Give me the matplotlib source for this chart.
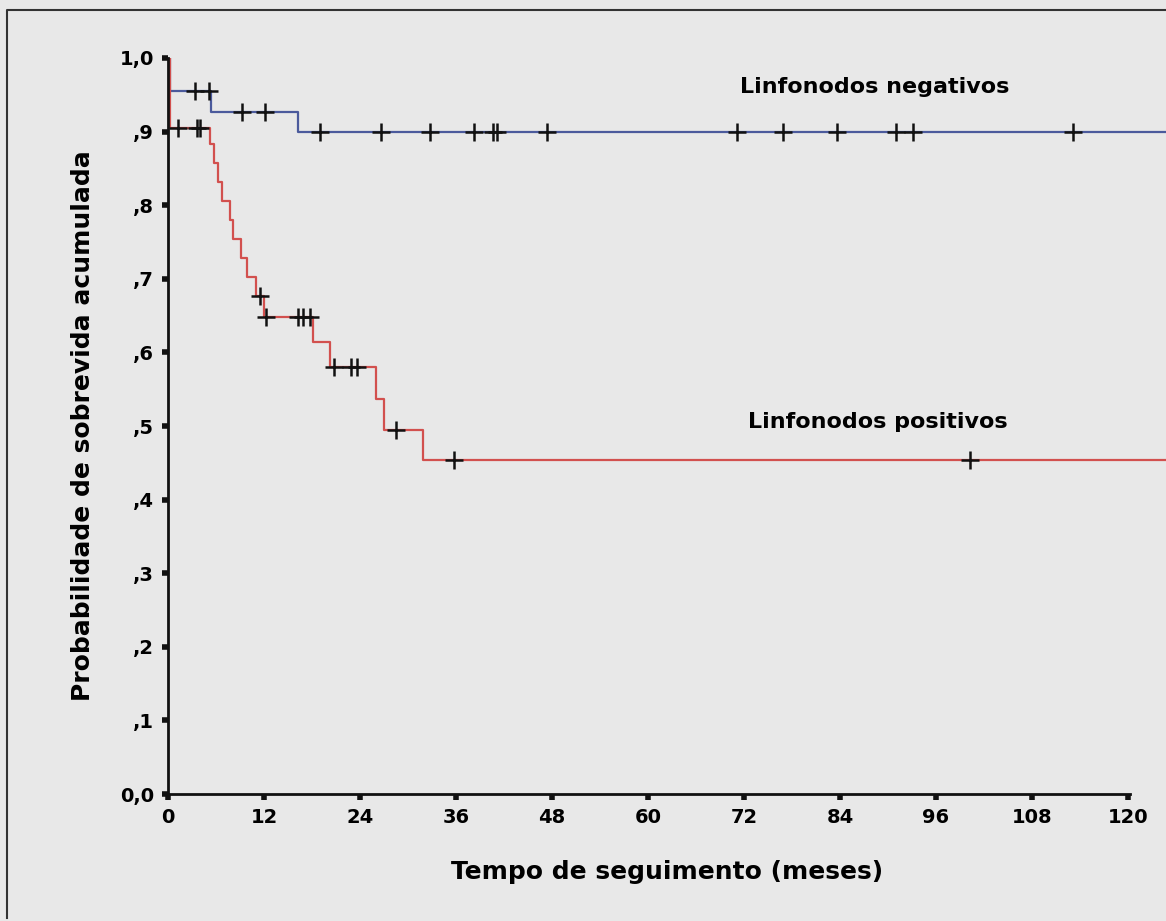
import numpy as np
import matplotlib.pyplot as plt
from matplotlib.lines import Line2D

plt.rcParams['font.family'] = ['DejaVu Sans']
plt.rcParams['font.weight'] = 'bold'

# Kaplan-Meier steps (time in months, survival after the step)
neg_times = [0, 0.3, 5.4, 16.2, 124.75]
neg_surv = [1.0, 0.955, 0.927, 0.900, 0.900]
neg_cens = [3.4, 5.1, 9.2, 12.1, 19.0, 26.6, 32.8, 38.3, 40.6, 41.1, 47.4,
            71.1, 76.9, 83.6, 91.0, 93.1, 113.1]

pos_times = [0, 0.3, 5.2, 5.7, 6.3, 6.8, 7.7, 8.1, 9.1, 9.9, 11.0, 12.0,
             18.1, 20.2, 26.0, 27.0, 31.9, 124.75]
pos_surv = [1.0, 0.905, 0.883, 0.857, 0.831, 0.806, 0.780, 0.754, 0.728,
            0.702, 0.676, 0.648, 0.614, 0.580, 0.537, 0.495, 0.454, 0.454]
pos_cens = [1.3, 3.6, 4.0, 11.5, 12.3, 16.3, 16.9, 17.7, 20.7, 22.9, 23.6,
            28.5, 35.7, 100.3]

xticks = list(range(0, 121, 12))
yticks = [i / 10 for i in range(11)]
ylabels = ['0,0', ',1', ',2', ',3', ',4', ',5', ',6', ',7', ',8', ',9', '1,0']


def level_at(times, surv, t):
    i = np.searchsorted(times, t, side='right') - 1
    return np.asarray(surv)[i]


bg = '#e8e8e8'
fig = plt.figure(figsize=(11.66, 9.21), dpi=100, facecolor=bg)
# frame of the scanned panel (top and left edges only visible)
fig.lines.append(Line2D([7 / 1166, 7 / 1166, 1.0], [3 / 921, 1 - 10 / 921, 1 - 10 / 921],
                        transform=fig.transFigure, color='#333333', lw=1.5))

ax = fig.add_axes([168 / 1166, 1 - 794 / 921, 1 - 168 / 1166, (794 - 58) / 921])
ax.set_facecolor(bg)

ax.step(neg_times, neg_surv, where='post', color='#4b5a9c', lw=1.6)
ax.step(pos_times, pos_surv, where='post', color='#d2504e', lw=1.6)
ax.plot(neg_cens, level_at(neg_times, neg_surv, neg_cens), '+', color='#111111',
        ms=13, mew=1.8)
ax.plot(pos_cens, level_at(pos_times, pos_surv, pos_cens), '+', color='#111111',
        ms=13, mew=1.8)

ax.set_xlim(0, 124.75)
ax.set_ylim(0, 1.0)
ax.set_xticks(xticks)
ax.set_yticks(yticks)
ax.set_yticklabels(ylabels)
ax.tick_params(direction='out', length=4, width=4, labelsize=14, color='#111111')
ax.tick_params(axis='x', pad=6)
ax.tick_params(axis='y', pad=6)
ax.spines['top'].set_visible(False)
ax.spines['right'].set_visible(False)
for s in ('left', 'bottom'):
    ax.spines[s].set_linewidth(2)
    ax.spines[s].set_color('#111111')
ax.spines['bottom'].set_bounds(0, 120.3)

ax.set_xlabel('Tempo de seguimento (meses)', fontsize=18, fontweight='bold',
              labelpad=24)
ax.set_ylabel('Probabilidade de sobrevida acumulada', fontsize=18,
              fontweight='bold', labelpad=18)

ax.text(71.5, 0.961, 'Linfonodos negativos', fontsize=16, fontweight='bold',
        va='center', ha='left')
ax.text(72.5, 0.505, 'Linfonodos positivos', fontsize=16, fontweight='bold',
        va='center', ha='left')

fig.savefig('out.png', dpi=100, facecolor=bg)
